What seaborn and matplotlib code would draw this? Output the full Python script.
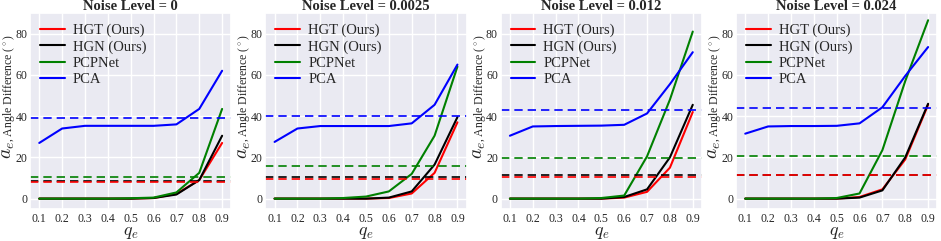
import matplotlib.pyplot as plt
import pandas as pd
import seaborn as sns

sns.set_theme(style='darkgrid')
plt.rcParams['font.family'] = ['Liberation Serif', 'DejaVu Serif']
plt.rcParams['mathtext.fontset'] = 'cm'

q_e = [0.1, 0.2, 0.3, 0.4, 0.5, 0.6, 0.7, 0.8, 0.9]
noise_levels = ['0', '0.0025', '0.012', '0.024']
methods = ['HGT (Ours)', 'HGN (Ours)', 'PCPNet', 'PCA']
colors = ['red', 'black', 'green', 'blue']

hgt = [
    [0, 0, 0, 0, 0, 0.3, 2.3, 9.0, 27.0],
    [0, 0, 0, 0, 0, 0.3, 2.5, 12.5, 37.0],
    [0, 0, 0, 0, 0, 0.5, 3.3, 15.0, 42.0],
    [0, 0, 0, 0, 0, 0.8, 4.5, 19.0, 45.5],
]
hgn = [
    [0, 0, 0, 0, 0, 0.3, 2.0, 9.0, 30.5],
    [0, 0, 0, 0, 0, 0.5, 3.5, 16.5, 39.5],
    [0, 0, 0, 0, 0, 0.8, 4.5, 20.0, 45.5],
    [0, 0, 0, 0, 0, 0.5, 4.0, 20.0, 46.0],
]
pcpnet = [
    [0, 0, 0, 0, 0.2, 0.5, 3.0, 12.5, 43.5],
    [0, 0, 0, 0.3, 1.0, 3.5, 12.0, 30.5, 64.0],
    [0, 0, 0, 0, 0.3, 1.5, 20.5, 48.0, 81.0],
    [0, 0, 0, 0, 0.3, 2.5, 23.5, 57.0, 86.5],
]
pca = [
    [27.0, 34.0, 35.3, 35.3, 35.3, 35.3, 36.0, 43.5, 62.0],
    [27.5, 34.0, 35.2, 35.2, 35.2, 35.2, 36.5, 45.5, 65.0],
    [30.5, 35.0, 35.2, 35.3, 35.4, 35.8, 41.3, 55.5, 71.0],
    [31.5, 35.0, 35.2, 35.2, 35.3, 36.5, 44.3, 59.5, 73.5],
]

# dashed reference lines (mean error) per noise level
hgt_ref = [8.3, 9.6, 10.3, 11.3]
hgn_ref = [8.5, 10.5, 11.3, 11.3]
pcpnet_ref = [10.5, 15.8, 19.5, 20.8]
pca_ref = [39.2, 40.0, 43.0, 44.0]


def main():
    fig, axes = plt.subplots(1, 4, figsize=(9.41, 2.41), dpi=100)
    fig.subplots_adjust(left=0.032, right=0.996, top=0.946, bottom=0.133,
                        wspace=0.17)

    for i, ax in enumerate(axes):
        curves = [hgt[i], hgn[i], pcpnet[i], pca[i]]
        refs = [hgt_ref[i], hgn_ref[i], pcpnet_ref[i], pca_ref[i]]
        rows = []
        for m, vals in zip(methods, curves):
            for q, v in zip(q_e, vals):
                rows.append({'q': q, 'err': v, 'method': m})
        df = pd.DataFrame(rows)
        sns.lineplot(data=df, x='q', y='err', hue='method', hue_order=methods,
                     palette=colors, linewidth=1.5, ax=ax)
        # draw PCA/PCPNet refs first so red/black sit on top
        for r, c in list(zip(refs, colors))[::-1]:
            ax.axhline(r, color=c, linestyle=(0, (5, 3)), linewidth=1.2)

        ax.set_xlim(0.06, 0.94)
        ax.set_ylim(-5, 90)
        ax.set_xticks(q_e)
        ax.set_xticklabels([f'{q:.1f}' for q in q_e])
        ax.set_yticks([0, 20, 40, 60, 80])
        ax.tick_params(axis='both', labelsize=8.5, length=0)
        ax.tick_params(axis='x', pad=3)
        ax.tick_params(axis='y', pad=2)
        ax.set_title(f'Noise Level = {noise_levels[i]}', fontsize=10.5,
                     fontweight='bold', pad=2)
        ax.set_xlabel('$q_e$', fontsize=13)
        ax.xaxis.set_label_coords(0.5, -0.12)
        ax.xaxis.label.set_va('center')
        ax.set_ylabel('')
        ax.text(-0.09, 0.30, '$a_e$', rotation=90, fontsize=14,
                rotation_mode='anchor', ha='center', va='baseline',
                transform=ax.transAxes)
        ax.text(-0.09, 0.62, ', Angle Difference ($^\\circ$)', rotation=90,
                fontsize=8.5, rotation_mode='anchor', ha='center',
                va='baseline', transform=ax.transAxes)
        ax.legend(loc='upper left', frameon=False, fontsize=10.5,
                  handlelength=1.7, handletextpad=0.55, labelspacing=0.2,
                  borderaxespad=0, borderpad=0.4,
                  bbox_to_anchor=(0.02, 0.975))

    plt.savefig('out.png', dpi=100)


if __name__ == '__main__':
    main()
